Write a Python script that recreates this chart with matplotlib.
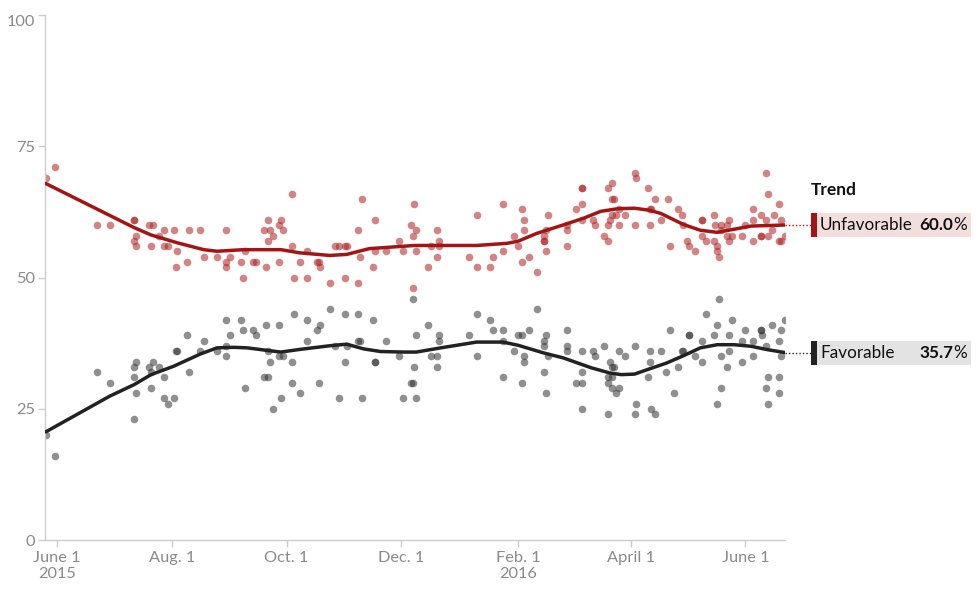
import numpy as np
import matplotlib
matplotlib.use("Agg")
import matplotlib.pyplot as plt
import matplotlib.dates as mdates
import matplotlib.transforms as mtransforms
from matplotlib.patches import Rectangle

plt.rcParams['font.family'] = ['Lato', 'DejaVu Sans']

# poll dates are stored as days after June 1, 2015
base_date = np.datetime64('2015-06-01')

unfav_days = [-6, -1, 21, 28, 41, 41, 41, 42, 42, 49, 51, 50, 54, 57, 57, 59, 62, 64, 63, 69,
              70, 76, 78, 85, 90, 90, 90, 92, 98, 99, 100, 104, 106, 111, 110, 112, 112, 113, 115, 118,
              119, 120, 118, 125, 125, 126, 129, 133, 133, 138, 139, 140, 145,
              148, 150, 153, 154, 153, 160, 160, 161, 162, 168, 169, 169, 175, 182, 184, 188, 189,
              190, 191, 191, 189, 197, 199, 202, 203, 203, 202, 219, 223, 223, 230, 232, 237, 237, 243,
              245, 247, 248, 248, 247, 251, 255, 259, 259, 259, 260, 260, 261, 271, 271, 271, 276, 279,
              279, 279, 279, 285, 286, 291, 293, 293, 295, 295, 296, 293, 294, 295, 297, 299, 299, 302,
              307, 308, 307, 314, 315, 316, 315, 318, 321,
              325, 326, 330, 332, 333, 335, 336, 339, 343, 343, 343, 345, 349, 350, 349, 351, 351, 352,
              353, 353, 356, 357, 356, 357, 359, 364, 366, 370, 370, 370, 374, 374, 374, 377, 377, 378,
              378, 380, 381, 384, 385, 384, 385, 387]
unfav_vals = [69, 71, 60, 60, 61, 61, 57, 58, 56, 60, 60, 56, 58, 59, 56, 56, 59, 55, 52, 53,
              59, 59, 54, 54, 59, 53, 52, 54, 53, 50, 55, 53, 53, 52, 59, 61, 57, 59, 58, 60,
              61, 59, 53, 66, 56, 50, 53, 55, 50, 53, 53, 52, 49,
              56, 56, 56, 56, 50, 59, 49, 54, 65, 52, 61, 55, 55, 57, 55, 60, 58,
              64, 59, 55, 48, 52, 56, 59, 57, 56, 54, 54, 62, 52, 52, 54, 64, 55, 58,
              56, 63, 61, 59, 53, 54, 51, 58, 57, 57, 59, 55, 62, 60, 59, 56, 63, 67,
              67, 64, 61, 61, 60, 58, 57, 67, 68, 65, 65, 60, 61, 62, 62, 63, 60, 62,
              70, 69, 60, 67, 63, 63, 60, 65, 61,
              65, 56, 63, 62, 60, 57, 56, 55, 61, 61, 58, 57, 62, 60, 57, 56, 55, 54,
              60, 59, 60, 61, 58, 57, 58, 58, 60, 63, 61, 57, 62, 58, 58, 61, 70, 66,
              58, 59, 62, 64, 61, 57, 57, 58]

fav_days = [-6, -1, 21, 28, 41, 41, 41, 42, 42, 49, 51, 50, 50, 54, 57, 57, 59, 62, 63, 64,
            69, 70, 76, 78, 85, 90, 90, 90, 92, 98, 99, 100, 104, 106, 111, 110, 112, 112, 113, 115,
            118, 118, 120, 119, 125, 125, 126, 129, 133, 133, 138, 140, 139, 145,
            148, 153, 154, 153, 150, 160, 160, 161, 162, 168, 169, 169, 175, 182, 184, 189, 190, 188,
            189, 191, 191, 197, 199, 202, 203, 203, 202, 219, 223, 223, 230, 232, 237, 237, 237, 243,
            245, 247, 248, 248, 247, 251, 255, 259, 259, 260, 261, 259, 260, 271, 271, 271, 276, 279,
            279, 279, 279, 285, 286, 291, 294, 295, 296, 293, 295, 293, 295, 299, 297, 293, 299, 302,
            307, 308, 307, 314, 315, 315, 316, 318, 321,
            324, 326, 328, 330, 332, 333, 336, 336, 339, 343, 343, 345, 349, 351, 352, 351, 353, 353,
            356, 357, 357, 359, 364, 364, 366, 370, 370, 374, 374, 375, 377, 378, 377, 378, 380, 384,
            385, 384, 384, 385, 387]
fav_vals = [20, 16, 32, 30, 23, 33, 31, 34, 28, 33, 34, 32, 29, 33, 31, 27, 26, 27, 36, 36,
            39, 32, 36, 38, 36, 42, 37, 35, 39, 42, 40, 29, 40, 39, 41, 31, 31, 36, 34, 25,
            41, 35, 35, 27, 34, 30, 43, 28, 42, 38, 40, 41, 30, 44,
            37, 43, 37, 34, 27, 43, 38, 38, 27, 42, 34, 34, 38, 35, 27, 46, 33, 30,
            30, 39, 27, 41, 35, 35, 39, 38, 33, 39, 43, 35, 42, 40, 40, 38, 31, 36,
            39, 39, 35, 34, 30, 40, 44, 38, 37, 39, 35, 32, 28, 40, 37, 36, 30, 36,
            32, 30, 25, 36, 35, 37, 34, 33, 33, 31, 31, 30, 29, 29, 28, 24, 36, 35,
            37, 26, 24, 31, 36, 34, 25, 24, 36,
            32, 40, 28, 33, 36, 36, 39, 39, 35, 38, 34, 43, 39, 41, 46, 26, 35, 29,
            33, 39, 36, 42, 38, 34, 40, 38, 35, 40, 40, 39, 37, 31, 29, 26, 41, 38,
            40, 31, 28, 35, 42]

unfav_trend_days = [-6, 41, 50, 64, 78, 85, 99, 119, 129, 145, 154, 166, 190, 223, 239, 245, 255,
                    269, 280, 289, 298, 307, 315, 321, 333, 342, 351, 360, 369, 387]
unfav_trend = [67.9, 59.5, 58.1, 56.6, 55.3, 55.0, 55.3, 55.3, 54.7, 54.2, 54.4, 55.5, 56.1, 56.1,
               56.5, 56.9, 58.4, 60.0, 61.3, 62.6, 63.1, 63.2, 62.8, 62.2, 60.1, 59.0, 58.6, 59.2,
               59.8, 60.0]

fav_trend_days = [-6, 28, 41, 50, 62, 76, 85, 94, 101, 112, 119, 129, 145, 154, 163, 172, 184, 191,
                  204, 223, 237, 245, 259, 269, 284, 294, 300, 307, 315, 324, 333, 342, 351, 360,
                  369, 377, 387]
fav_trend = [20.6, 27.4, 29.6, 31.5, 33.1, 35.4, 36.6, 36.7, 36.6, 36.1, 35.8, 36.3, 37.0, 37.3,
             36.4, 35.9, 35.8, 35.8, 36.6, 37.7, 37.7, 37.1, 35.6, 34.7, 32.8, 31.8, 31.5, 31.6,
             32.6, 33.7, 35.1, 36.6, 37.2, 37.2, 36.9, 36.3, 35.7]

series_names = ['Unfavorable', 'Favorable']
last_values = [60.0, 35.7]

tick_dates = ['2015-06-01', '2015-08-01', '2015-10-01', '2015-12-01',
              '2016-02-01', '2016-04-01', '2016-06-01']
tick_labels = ['June 1\n2015', 'Aug. 1', 'Oct. 1', 'Dec. 1', 'Feb. 1\n2016', 'April 1', 'June 1']
y_ticks = [0, 25, 50, 75, 100]


def to_dates(days):
    return base_date + np.array(days).astype('timedelta64[D]')


red = '#a31515'
red_pts = '#ad2020'
dark = '#222222'

fig = plt.figure(figsize=(9.8, 5.92), dpi=100)
ax = fig.add_axes([45 / 980, 52 / 592, 740 / 980, 525 / 592])

ax.scatter(to_dates(unfav_days), unfav_vals, s=30, color=red_pts, alpha=0.55,
           linewidths=0, zorder=2)
ax.scatter(to_dates(fav_days), fav_vals, s=30, color='#333333', alpha=0.55,
           linewidths=0, zorder=2)
ax.plot(to_dates(unfav_trend_days), unfav_trend, color=red, lw=2.5, zorder=3,
        solid_joinstyle='round', solid_capstyle='round')
ax.plot(to_dates(fav_trend_days), fav_trend, color=dark, lw=2.5, zorder=3,
        solid_joinstyle='round', solid_capstyle='round')

x0 = mdates.date2num(np.datetime64('2015-05-25T14:00'))
x1 = mdates.date2num(to_dates([unfav_trend_days[-1]])[0])
ax.set_xlim(x0, x1)
ax.set_ylim(0, 100)

ax.set_xticks(mdates.date2num(np.array(tick_dates, dtype='datetime64[D]')))
ax.set_xticklabels(tick_labels)
ax.set_yticks(y_ticks)
ax.set_yticklabels([str(v) for v in y_ticks])

for side in ['top', 'right']:
    ax.spines[side].set_visible(False)
for side in ['left', 'bottom']:
    ax.spines[side].set_color('#cccccc')
    ax.spines[side].set_linewidth(1)
ax.tick_params(axis='both', colors='#cccccc', labelcolor='#8a8a8a', labelsize=11.8,
               length=5, width=1)
ax.tick_params(axis='x', pad=3)
ax.tick_params(axis='y', pad=2)
ax.yaxis.get_majorticklabels()[-1].set_verticalalignment('top')

# end labels to the right of the plot
trans = mtransforms.blended_transform_factory(ax.transAxes, ax.transData)
box_left = (811 - 45) / 740
box_right = (971 - 45) / 740
box_h = 4.6
bar_w = 6 / 740
box_colors = ['#f3dede', '#e3e3e3']
bar_colors = [red, dark]
for name, val, bg, bc in zip(series_names, last_values, box_colors, bar_colors):
    ax.plot([1.0, box_left], [val, val], transform=trans, clip_on=False,
            color=bc, lw=1, ls=(0, (1, 1.5)))
    ax.add_patch(Rectangle((box_left, val - box_h / 2), box_right - box_left, box_h,
                           transform=trans, clip_on=False, facecolor=bg, edgecolor='none'))
    ax.add_patch(Rectangle((box_left, val - box_h / 2), bar_w, box_h,
                           transform=trans, clip_on=False, facecolor=bc, edgecolor='none'))
    ax.text(box_left + 9 / 740, val, name, transform=trans, ha='left', va='center',
            fontsize=12.3, color='#111111')
    pct = ax.text(box_right - 4 / 740, val, '%', transform=trans, ha='right', va='center',
                  fontsize=12.3, color='#111111')
    ax.annotate(f'{val:.1f}', xy=(0, 0.5), xycoords=pct, ha='right', va='center',
                fontsize=12.3, fontweight='bold', color='#111111')

ax.text(box_left, last_values[0] + 6.6, 'Trend', transform=trans, ha='left', va='center',
        fontsize=12.5, fontweight='bold', color='#111111')

fig.savefig('out.png', dpi=100)
